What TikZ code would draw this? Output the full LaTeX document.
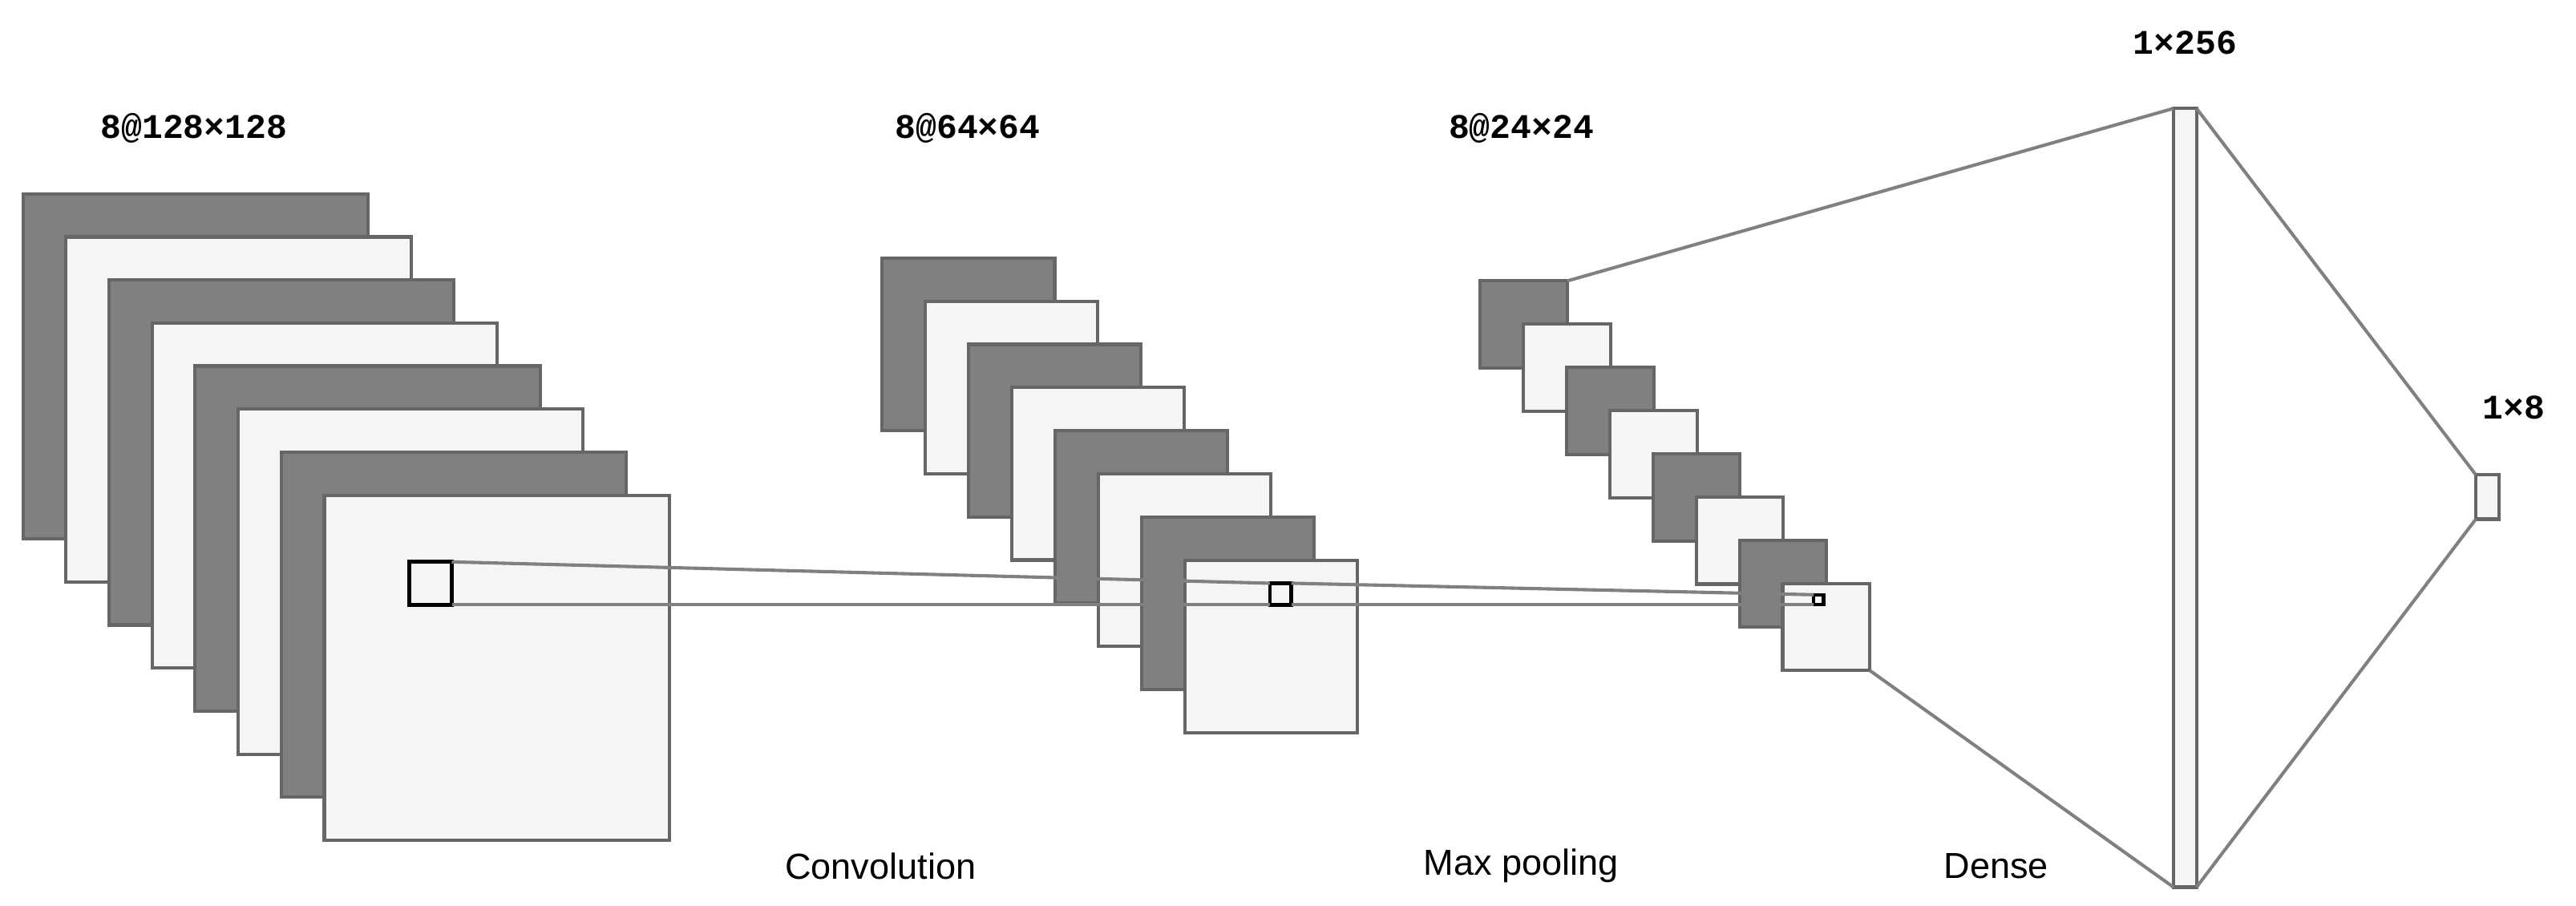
\documentclass[tikz,border=0pt]{standalone}
\usepackage{fontspec}
\newfontfamily\monob{Liberation Mono}
\newfontfamily\sansf{Liberation Sans}
\begin{document}
\begin{tikzpicture}[x=0.5pt,y=-0.5pt,
  dk/.style={draw=black!60,fill=black!50,line width=1pt,inner sep=0,outer sep=0,anchor=north west},
  lt/.style={draw=black!60,fill=black!4,line width=1pt,inner sep=0,outer sep=0,anchor=north west},
  win/.style={draw=black,line width=1.2pt,fill=none,inner sep=0,outer sep=0,anchor=north west},
  conn/.style={draw=black!50,line width=1pt},
  dim/.style={font=\monob\bfseries\fontsize{10.5}{12}\selectfont},
  lbl/.style={font=\sansf\fontsize{11}{13}\selectfont}]
\useasboundingbox (0,0) rectangle (1568,551);
\foreach \i in {0,...,7}{
  \pgfmathsetmacro\xx{14+26.2*\i}\pgfmathsetmacro\yy{118+26.2*\i}
  \pgfmathparse{mod(\i,2)==0?"dk":"lt"}
  \node[\pgfmathresult,minimum width=105pt,minimum height=105pt] (a\i) at (\xx,\yy) {};
}
\foreach \i in {0,...,7}{
  \pgfmathsetmacro\xx{537+26.3*\i}\pgfmathsetmacro\yy{157+26.3*\i}
  \pgfmathparse{mod(\i,2)==0?"dk":"lt"}
  \node[\pgfmathresult,minimum width=52.5pt,minimum height=52.5pt] (b\i) at (\xx,\yy) {};
}
\foreach \i in {0,...,7}{
  \pgfmathsetmacro\xx{901+26.3*\i}\pgfmathsetmacro\yy{171+26.3*\i}
  \pgfmathparse{mod(\i,2)==0?"dk":"lt"}
  \node[\pgfmathresult,minimum width=26.5pt,minimum height=26.5pt] (c\i) at (\xx,\yy) {};
}
\node[win,minimum width=13pt,minimum height=13pt] (w1) at (249,342) {};
\node[win,minimum width=6.5pt,minimum height=6.5pt] (w2) at (773,355) {};
\node[win,line width=1pt,minimum width=3pt,minimum height=3pt] (w3) at (1104,362) {};
\draw[conn] (w1.north east) -- (w2.north west);
\draw[conn] (w1.south east) -- (w2.south west);
\draw[conn] (w2.north east) -- (w3.north west);
\draw[conn] (w2.south east) -- (w3.south west);
\node[lt,minimum width=7pt,minimum height=237pt] (d) at (1323,66) {};
\node[lt,minimum width=7pt,minimum height=13.5pt] (o) at (1507,289) {};
\draw[conn] (c0.north east) -- (d.north west);
\draw[conn] (c7.south east) -- (d.south west);
\draw[conn] (d.north east) -- (o.north west);
\draw[conn] (d.south east) -- (o.south west);
\node[dim] (t1) at (118,78) {8@128×128};
\node[dim] (t2) at (589,78) {8@64×64};
\node[dim] (t3) at (926,78) {8@24×24};
\node[dim] (t4) at (1330,26) {1×256};
\node[dim] (t5) at (1530,248) {1×8};
\node[lbl] (l1) at (536,527) {Convolution};
\node[lbl] (l2) at (926,527) {Max pooling};
\node[lbl] (l3) at (1215,527) {Dense};
\end{tikzpicture}
\end{document}
